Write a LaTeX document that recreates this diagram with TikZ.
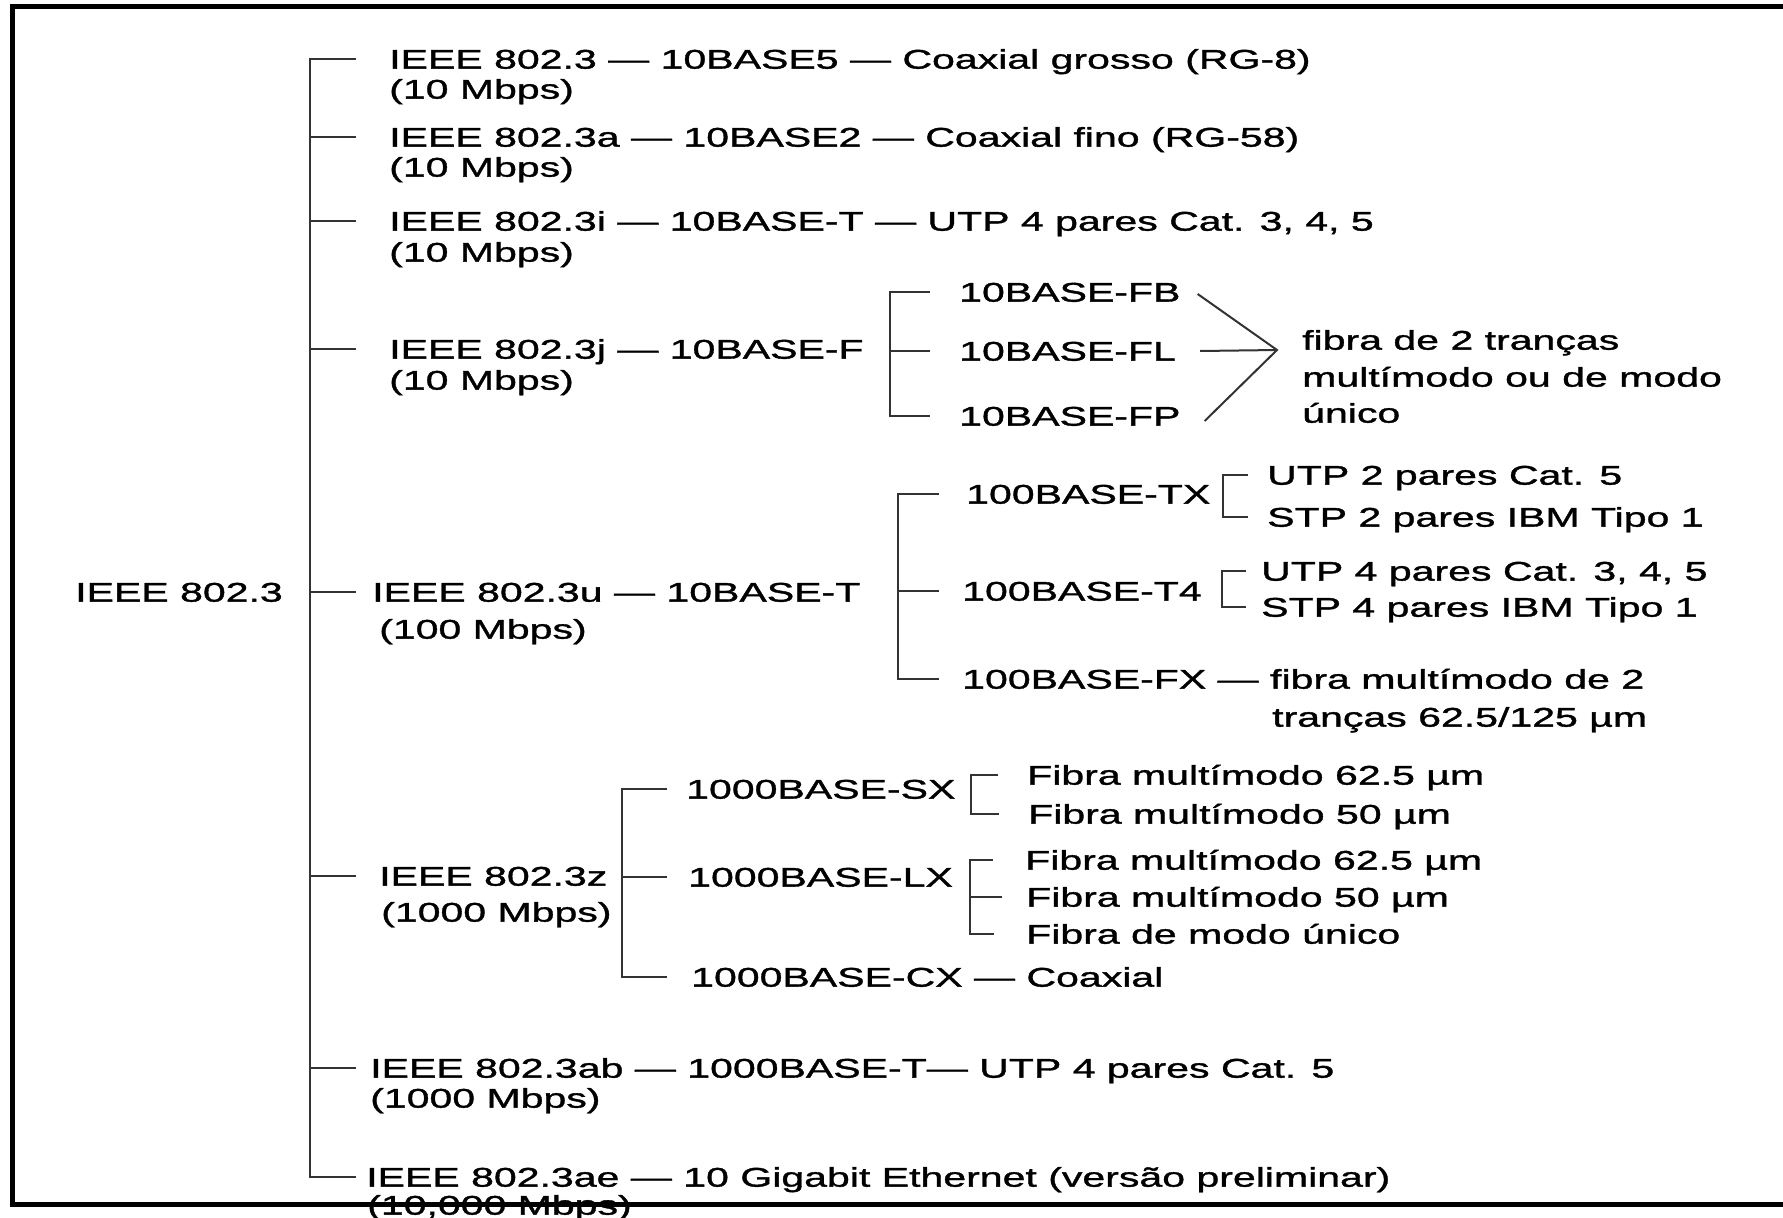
\documentclass[tikz,border=0pt]{standalone}
\usepackage{fontspec}
\setmainfont{Liberation Sans}[FakeStretch=1.52,FakeBold=1.3]
\usepackage{tikz}
\usetikzlibrary{calc}

\begin{document}
\begin{tikzpicture}[x=1pt,y=-1pt]
    \tikzstyle{lbl}=[anchor=west,inner sep=0,text height=19.3pt,text depth=0pt,font=\fontsize{27}{30}\selectfont]
    \tikzstyle{link}=[line width=2pt,black!80]
    \useasboundingbox (0,0) rectangle (1783,1218);
    \node[lbl] (root) at (75,592) {IEEE 802.3};
    % main branches
    \node[lbl] (r1) at (389,59) {IEEE 802.3 — 10BASE5 — Coaxial grosso (RG-8)};
    \node[lbl] (m1) at (389,89) {(10 Mbps)};
    \node[lbl] (r2) at (389,137) {IEEE 802.3a — 10BASE2 — Coaxial fino (RG-58)};
    \node[lbl] (m2) at (389,167) {(10 Mbps)};
    \node[lbl] (r3) at (389,221) {IEEE 802.3i — 10BASE-T — UTP 4 pares Cat. 3, 4, 5};
    \node[lbl] (m3) at (389,252) {(10 Mbps)};
    \node[lbl] (r4) at (389,349) {IEEE 802.3j — 10BASE-F};
    \node[lbl] (m4) at (389,380) {(10 Mbps)};
    \node[lbl] (r5) at (372,592) {IEEE 802.3u — 10BASE-T};
    \node[lbl] (m5) at (379,629) {(100 Mbps)};
    \node[lbl] (r6) at (379,876) {IEEE 802.3z};
    \node[lbl] (m6) at (381,912) {(1000 Mbps)};
    \node[lbl] (r7) at (370,1068) {IEEE 802.3ab — 1000BASE-T— UTP 4 pares Cat. 5};
    \node[lbl] (m7) at (370,1098) {(1000 Mbps)};
    \node[lbl] (r8) at (366,1177) {IEEE 802.3ae — 10 Gigabit Ethernet (versão preliminar)};
    \node[lbl] (m8) at (367,1205) {(10,000 Mbps)};
    \coordinate (trunk) at (310,0);
    \coordinate (tend) at (356,0);
    \draw[link] (r1.west -| tend) -- (r1.west -| trunk) -- (r8.west -| trunk) -- (r8.west -| tend);
    \foreach \r in {r2,r3,r4,r5,r6,r7}
        \draw[link] (\r.west -| trunk) -- (\r.west -| tend);
    % 10BASE-F
    \node[lbl] (fb) at (959,292) {10BASE-FB};
    \node[lbl] (fl) at (959,351) {10BASE-FL};
    \node[lbl] (fp) at (959,416) {10BASE-FP};
    \coordinate (fv) at (890,0);
    \coordinate (fe) at (930,0);
    \draw[link] (fb.west -| fe) -- (fb.west -| fv) -- (fp.west -| fv) -- (fp.west -| fe);
    \draw[link] (fl.west -| fv) -- (fl.west -| fe);
    \coordinate (apex) at (1277,350);
    \draw[link] ([shift={(17,2)}]fb.east) -- (apex) -- ([shift={(24,5)}]fp.east);
    \draw[link] ([shift={(24,0)}]fl.east) -- (apex);
    \node[lbl] (fib1) at (1302,340) {fibra de 2 tranças};
    \node[lbl] (fib2) at (1302,377) {multímodo ou de modo};
    \node[lbl] (fib3) at (1302,413) {único};
    % 100BASE
    \node[lbl] (tx) at (966,494) {100BASE-TX};
    \node[lbl] (t4) at (962,591) {100BASE-T4};
    \node[lbl] (fx) at (962,679) {100BASE-FX — fibra multímodo de 2};
    \node[lbl] (fx2) at (1272,717) {tranças 62.5/125 µm};
    \coordinate (uv) at (898,0);
    \coordinate (ue) at (939,0);
    \draw[link] (tx.west -| ue) -- (tx.west -| uv) -- (fx.west -| uv) -- (fx.west -| ue);
    \draw[link] (t4.west -| uv) -- (t4.west -| ue);
    \node[lbl] (utp2) at (1267,475) {UTP 2 pares Cat. 5};
    \node[lbl] (stp2) at (1267,517) {STP 2 pares IBM Tipo 1};
    \draw[link] ([shift={(-19,0)}]utp2.west) -- ++(-25,0) |- ([shift={(-19,0)}]stp2.west);
    \node[lbl] (utp4) at (1261,571) {UTP 4 pares Cat. 3, 4, 5};
    \node[lbl] (stp4) at (1261,607) {STP 4 pares IBM Tipo 1};
    \draw[link] ([shift={(-15,0)}]utp4.west) -- ++(-24,0) |- ([shift={(-15,0)}]stp4.west);
    % 1000BASE
    \node[lbl] (sx) at (686,789) {1000BASE-SX};
    \node[lbl] (lx) at (688,877) {1000BASE-LX};
    \node[lbl] (cx) at (691,977) {1000BASE-CX — Coaxial};
    \coordinate (zv) at (622,0);
    \coordinate (ze) at (667,0);
    \draw[link] (sx.west -| ze) -- (sx.west -| zv) -- (cx.west -| zv) -- (cx.west -| ze);
    \draw[link] (lx.west -| zv) -- (lx.west -| ze);
    \node[lbl] (s1) at (1027,775) {Fibra multímodo 62.5 µm};
    \node[lbl] (s2) at (1028,814) {Fibra multímodo 50 µm};
    \draw[link] ([shift={(-29,0)}]s1.west) -- ++(-27,0) |- ([shift={(-29,0)}]s2.west);
    \node[lbl] (l1) at (1025,860) {Fibra multímodo 62.5 µm};
    \node[lbl] (l2) at (1026,897) {Fibra multímodo 50 µm};
    \node[lbl] (l3) at (1026,934) {Fibra de modo único};
    \draw[link] ([shift={(-32,0)}]l1.west) -- ++(-23,0) |- ([shift={(-32,0)}]l3.west);
    \draw[link] ([shift={(-56,0)}]l2.west) -- ([shift={(-24,0)}]l2.west);
    % frame
    \draw[line width=5pt] (1783,6.5) -- (12.5,6.5) -- (12.5,1204.5) -- (1783,1204.5);
\end{tikzpicture}
\end{document}
